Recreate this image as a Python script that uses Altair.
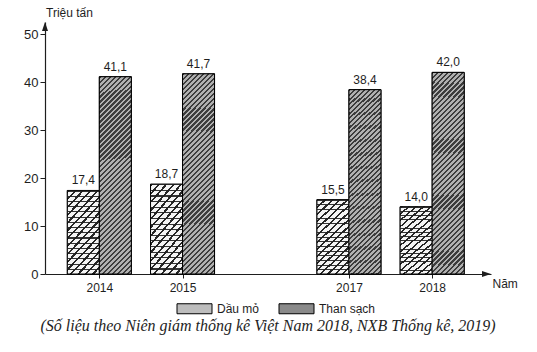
import altair as alt
import pandas as pd

# ---- data ----
years = [2014, 2015, 2017, 2018]
dau_mo = [17.4, 18.7, 15.5, 14.0]
than_sach = [41.1, 41.7, 38.4, 42.0]
series_names = ["Dầu mỏ", "Than sạch"]
y_ticks = [0, 10, 20, 30, 40, 50]
caption = "(Số liệu theo Niên giám thống kê Việt Nam 2018, NXB Thống kê, 2019)"

rows = []
for i, yr in enumerate(years):
    rows.append({"year": yr, "series": series_names[0], "idx": 0, "value": dau_mo[i]})
    rows.append({"year": yr, "series": series_names[1], "idx": 1, "value": than_sach[i]})
df = pd.DataFrame(rows)

W, H = 446, 252
BW = 0.3846  # bar width in year units
SANS = "Liberation Sans"
INK = "#1e1e1e"


def stripes(n, dark, light, frac, x2, y2):
    stops = []
    for k in range(n):
        a = k / n
        b = (k + frac) / n
        c = (k + 1) / n
        stops += [
            {"offset": round(a, 5), "color": dark},
            {"offset": round(b, 5), "color": dark},
            {"offset": round(b, 5), "color": light},
            {"offset": round(c, 5), "color": light},
        ]
    return {"gradient": "linear", "x1": 0, "y1": 0, "x2": x2, "y2": y2, "stops": stops}


grad_than = stripes(46, "#3c3c3c", "#b0b0b0", 0.45, 0.183, 1.132)
grad_dau = stripes(15, "#262626", "#f4f4f4", 0.30, 0.489, 1.207)
grad_dau_rows = stripes(16, "rgba(30,30,30,0.9)", "rgba(255,255,255,0)", 0.2, 0, 1)

xscale = alt.Scale(domain=[2013.347, 2018.707], nice=False, zero=False)
yscale = alt.Scale(domain=[0, 52.5], nice=False)

base = alt.Chart(df).transform_calculate(
    x0=f"datum.year + (datum.idx - 1) * {BW}",
    x1=f"datum.year + datum.idx * {BW}",
    xm=f"datum.year + (datum.idx - 0.5) * {BW}",
    label="replace(format(datum.value, '.1f'), '.', ',')",
)

x_axis = alt.Axis(
    values=years, format="d", title="Năm", titleX=W + 1, titleY=9,
    titleAlign="left", titleBaseline="middle", titleFont=SANS, titleFontSize=12,
    titleFontWeight="normal", titleColor=INK,
    labelFont=SANS, labelFontSize=12, labelColor=INK, labelPadding=4,
    tickSize=4, tickColor=INK, domainColor=INK, domainWidth=1.2, grid=False,
)
y_axis = alt.Axis(
    values=y_ticks, title="Triệu tấn", titleAngle=0, titleX=24, titleY=-10,
    titleAlign="center", titleBaseline="middle", titleFont=SANS, titleFontSize=12,
    titleFontWeight="normal", titleColor=INK,
    labelFont=SANS, labelFontSize=13, labelColor=INK, labelPadding=2,
    tickSize=5, tickColor=INK, domainColor=INK, domainWidth=1.2, grid=False,
)

flat = base.mark_bar(stroke="black", strokeWidth=1, opacity=1).encode(
    x=alt.X("x0:Q", scale=xscale, axis=x_axis),
    x2="x1:Q",
    y=alt.Y("value:Q", scale=yscale, axis=y_axis),
    y2=alt.datum(0),
    color=alt.Color(
        "series:N",
        scale=alt.Scale(domain=series_names, range=["#bdbdbd", "#8a8a8a"]),
        legend=alt.Legend(
            title=None, orient="none", legendX=139, legendY=276, direction="horizontal",
            columns=2, symbolType="M-1.75,-0.5H1.75V0.5H-1.75Z", symbolSize=400,
            symbolStrokeColor="black", symbolStrokeWidth=1, symbolOpacity=1,
            labelFont=SANS, labelFontSize=12, labelColor=INK, labelOffset=12,
            columnPadding=17, padding=0,
        ),
    ),
)

dau_bars = base.transform_filter("datum.idx == 0").mark_bar(
    fill=grad_dau, stroke="black", strokeWidth=1
).encode(x=alt.X("x0:Q", scale=xscale), x2="x1:Q",
         y=alt.Y("value:Q", scale=yscale), y2=alt.datum(0))

dau_rows = base.transform_filter("datum.idx == 0").mark_bar(
    fill=grad_dau_rows, strokeWidth=0
).encode(x=alt.X("x0:Q", scale=xscale), x2="x1:Q",
         y=alt.Y("value:Q", scale=yscale), y2=alt.datum(0))

than_bars = base.transform_filter("datum.idx == 1").mark_bar(
    fill=grad_than, stroke="black", strokeWidth=1
).encode(x=alt.X("x0:Q", scale=xscale), x2="x1:Q",
         y=alt.Y("value:Q", scale=yscale), y2=alt.datum(0))

labels = base.mark_text(
    font=SANS, fontSize=12, color=INK, baseline="bottom", dy=-3
).encode(x=alt.X("xm:Q", scale=xscale), y=alt.Y("value:Q", scale=yscale), text="label:N")

one = alt.Chart(pd.DataFrame({"a": [0]}))
arrow_up = one.mark_point(
    shape="M0,0L0.6,1.8L-0.6,1.8Z", size=100, filled=True, color=INK, opacity=1
).encode(x=alt.value(0), y=alt.value(0))
arrow_right = one.mark_point(
    shape="M0,0L-1.8,-0.6L-1.8,0.6Z", size=100, filled=True, color=INK, opacity=1
).encode(x=alt.value(W), y=alt.value(H))

cap = one.mark_text(
    text=caption, font="Liberation Serif", fontStyle="italic", fontSize=16, color=INK,
    align="center", baseline="middle",
).encode(x=alt.value(223), y=alt.value(304))

chart = alt.layer(flat, dau_bars, dau_rows, than_bars, labels, arrow_up, arrow_right, cap).properties(
    width=W, height=H,
    autosize=alt.AutoSizeParams(type="none"),
    padding={"left": 45, "top": 22, "right": 46, "bottom": 78},
    background="white",
).configure_view(stroke=None)

chart.save("out.html", embed_options={"renderer": "svg", "actions": False})
